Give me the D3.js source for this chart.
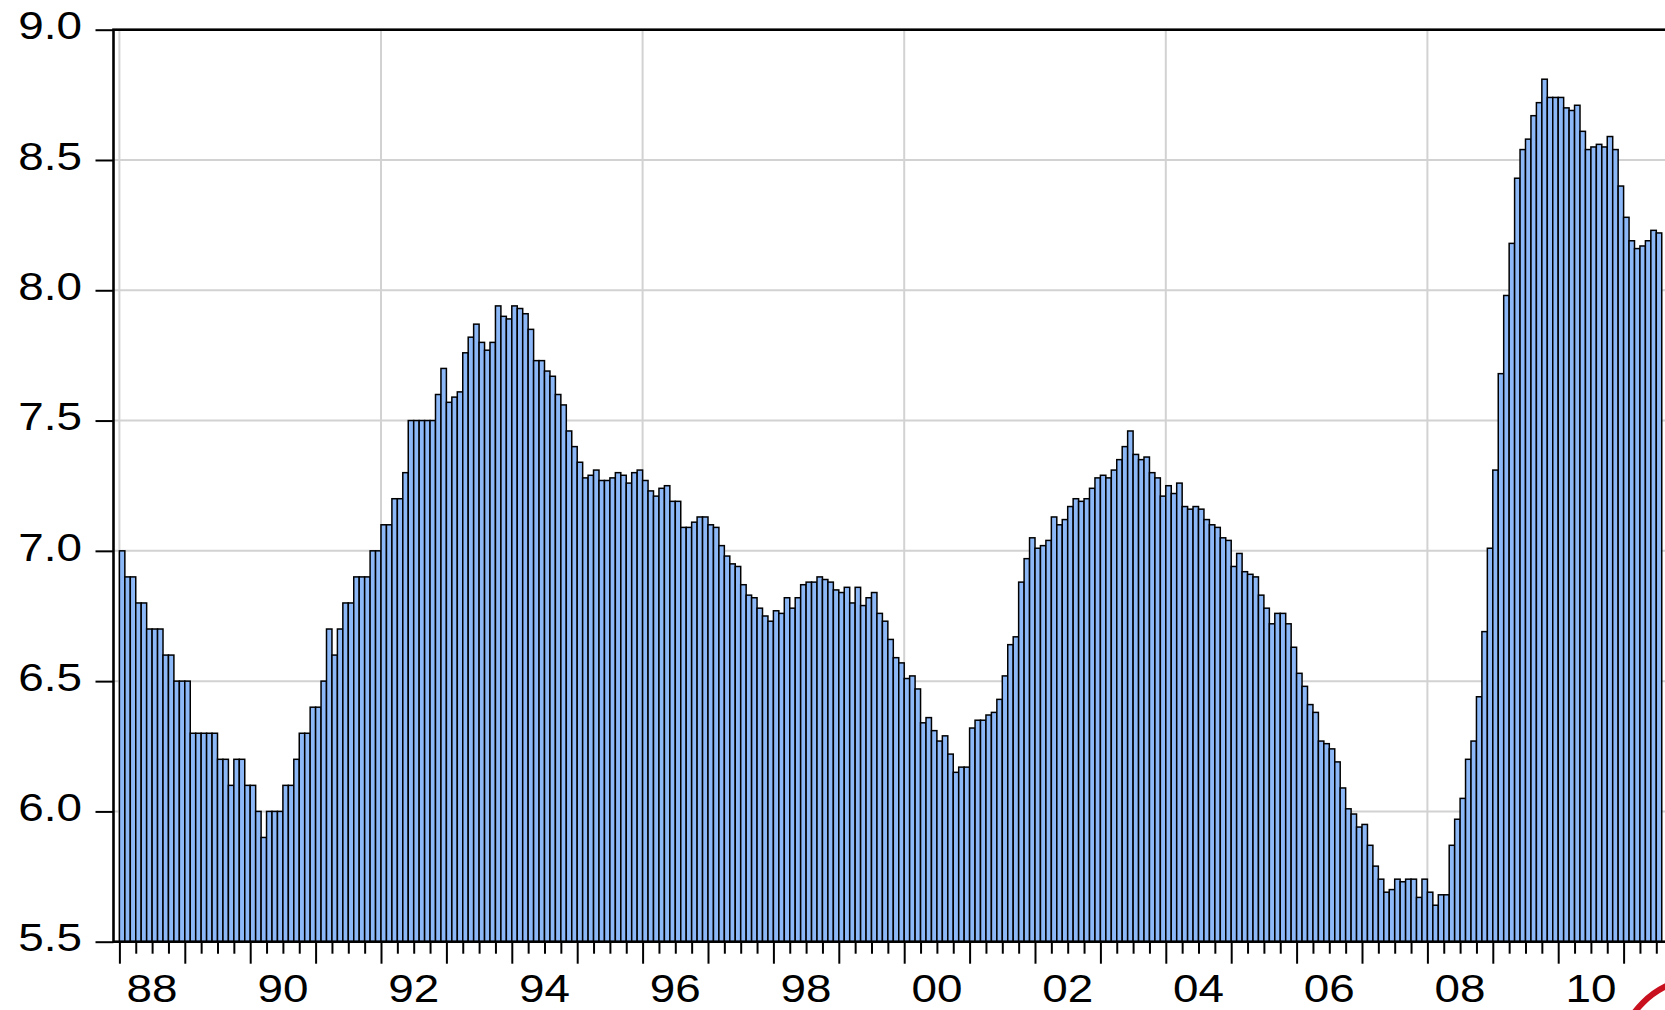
<!DOCTYPE html>
<html>
<head>
<meta charset="utf-8">
<script src="https://cdn.jsdelivr.net/npm/d3@7"></script>
<style>
  html, body { margin: 0; padding: 0; background: #ffffff; }
  svg { display: block; }
</style>
</head>
<body>
<svg id="chart" width="1665" height="1010"></svg>
<script>
// Monthly series, Jan 1988 .. Jul 2011
const startYear = 1988;
const values1988_1992 = [
  7.0, 6.9, 6.9, 6.8, 6.8, 6.7, 6.7, 6.7, 6.6, 6.6, 6.5, 6.5,
  6.5, 6.3, 6.3, 6.3, 6.3, 6.3, 6.2, 6.2, 6.1, 6.2, 6.2, 6.1,
  6.1, 6.0, 5.9, 6.0, 6.0, 6.0, 6.1, 6.1, 6.2, 6.3, 6.3, 6.4,
  6.4, 6.5, 6.7, 6.6, 6.7, 6.8, 6.8, 6.9, 6.9, 6.9, 7.0, 7.0,
  7.1, 7.1, 7.2, 7.2, 7.3, 7.5, 7.5, 7.5, 7.5, 7.5, 7.60, 7.70
];
const values1993_1999 = [
  7.57, 7.59, 7.61, 7.76, 7.82, 7.87, 7.80, 7.77, 7.80, 7.94, 7.90, 7.89,
  7.94, 7.93, 7.91, 7.85, 7.73, 7.73, 7.69, 7.67, 7.60, 7.56, 7.46, 7.40,
  7.34, 7.28, 7.29, 7.31, 7.27, 7.27, 7.28, 7.30, 7.29, 7.26, 7.30, 7.31,
  7.27, 7.23, 7.21, 7.24, 7.25, 7.19, 7.19, 7.09, 7.09, 7.11, 7.13, 7.13,
  7.10, 7.09, 7.02, 6.98, 6.95, 6.94, 6.87, 6.83, 6.82, 6.78, 6.75, 6.73,
  6.77, 6.76, 6.82, 6.78, 6.82, 6.87, 6.88, 6.88, 6.90, 6.89, 6.88, 6.85,
  6.84, 6.86, 6.80, 6.86, 6.79, 6.82, 6.84, 6.76, 6.73, 6.66, 6.59, 6.57
];
const values2000_2005 = [
  6.51, 6.52, 6.47, 6.34, 6.36, 6.31, 6.27, 6.29, 6.22, 6.15, 6.17, 6.17,
  6.32, 6.35, 6.35, 6.37, 6.38, 6.43, 6.52, 6.64, 6.67, 6.88, 6.97, 7.05,
  7.01, 7.02, 7.04, 7.13, 7.10, 7.12, 7.17, 7.20, 7.19, 7.20, 7.24, 7.28,
  7.29, 7.28, 7.31, 7.35, 7.40, 7.46, 7.37, 7.35, 7.36, 7.30, 7.28, 7.21,
  7.25, 7.22, 7.26, 7.17, 7.16, 7.17, 7.16, 7.12, 7.10, 7.09, 7.05, 7.04,
  6.94, 6.99, 6.92, 6.91, 6.90, 6.83, 6.78, 6.72, 6.76, 6.76, 6.72, 6.63
];
const values2006_2011 = [
  6.53, 6.48, 6.41, 6.38, 6.27, 6.26, 6.24, 6.19, 6.09, 6.01, 5.99, 5.94,
  5.95, 5.87, 5.79, 5.74, 5.69, 5.70, 5.74, 5.73, 5.74, 5.74, 5.67, 5.74,
  5.69, 5.64, 5.68, 5.68, 5.87, 5.97, 6.05, 6.20, 6.27, 6.44, 6.69, 7.01,
  7.31, 7.68, 7.98, 8.18, 8.43, 8.54, 8.58, 8.67, 8.72, 8.81, 8.74, 8.74,
  8.74, 8.70, 8.69, 8.71, 8.61, 8.54, 8.55, 8.56, 8.55, 8.59, 8.54, 8.40,
  8.28, 8.19, 8.16, 8.17, 8.19, 8.23, 8.22
];
const values = [].concat(values1988_1992, values1993_1999, values2000_2005, values2006_2011);

const yTicks = [5.5, 6.0, 6.5, 7.0, 7.5, 8.0, 8.5, 9.0];
const yearLabels = ["88", "90", "92", "94", "96", "98", "00", "02", "04", "06", "08", "10"];
const gridYears = [1988, 1992, 1996, 2000, 2004, 2008];

// ---- layout ----
const svg = d3.select("#chart");
const frameLeft = 113.5, frameTop = 29.7, frameBottom = 941.7, frameRight = 1668.5;
const barsLeft = 119.4, step = 5.45;
const n = values.length;

const x = d3.scaleLinear().domain([0, n]).range([barsLeft, barsLeft + n * step]);
const y = d3.scaleLinear().domain([5.5, 9.0]).range([frameBottom, frameTop]);

const gridColor = "#d2d2d2";
const fontSize = 38.5, stretch = 1.19;

// horizontal gridlines
svg.append("g").selectAll("line")
  .data(yTicks.filter(t => t > 5.5 && t < 9.0))
  .join("line")
  .attr("x1", frameLeft).attr("x2", frameRight)
  .attr("y1", d => y(d)).attr("y2", d => y(d))
  .attr("stroke", gridColor).attr("stroke-width", 2);

// vertical gridlines
svg.append("g").selectAll("line")
  .data(gridYears)
  .join("line")
  .attr("x1", d => x((d - startYear) * 12)).attr("x2", d => x((d - startYear) * 12))
  .attr("y1", frameTop).attr("y2", frameBottom)
  .attr("stroke", gridColor).attr("stroke-width", 2);

// bars
svg.append("g").selectAll("rect")
  .data(values)
  .join("rect")
  .attr("x", (d, i) => x(i))
  .attr("width", (d, i) => x(i + 1) - x(i))
  .attr("y", d => y(d))
  .attr("height", d => y(5.5) - y(d))
  .attr("fill", "#8db8f8")
  .attr("stroke", "#000")
  .attr("stroke-width", 1.5);

// frame
svg.append("rect")
  .attr("x", frameLeft).attr("y", frameTop)
  .attr("width", frameRight - frameLeft).attr("height", frameBottom - frameTop)
  .attr("fill", "none").attr("stroke", "#000").attr("stroke-width", 2.6);

// y axis
const yAxis = svg.append("g")
  .attr("transform", `translate(${frameLeft},0)`)
  .call(d3.axisLeft(y).tickValues(yTicks).tickSize(18).tickFormat(d3.format(".1f")));
yAxis.select(".domain").remove();
yAxis.selectAll(".tick line").attr("stroke", "#000").attr("stroke-width", 2);
yAxis.selectAll(".tick text")
  .attr("x", 0).attr("dy", null)
  .attr("transform", `translate(-31.5,9.2) scale(${stretch},1)`)
  .attr("text-anchor", "end")
  .style("font-family", "'Liberation Sans', Arial, sans-serif")
  .style("font-size", fontSize + "px")
  .attr("fill", "#000");

// x axis: yearly major ticks, quarterly minor ticks
const majorIdx = d3.range(0, n + 1, 12);
const minorIdx = d3.range(0, n, 3).filter(i => i % 12 !== 0);
const xMajor = svg.append("g")
  .attr("transform", `translate(0,${frameBottom + 1})`)
  .call(d3.axisBottom(x).tickValues(majorIdx).tickSize(21).tickFormat(""));
const xMinor = svg.append("g")
  .attr("transform", `translate(0,${frameBottom + 1})`)
  .call(d3.axisBottom(x).tickValues(minorIdx).tickSize(11).tickFormat(""));
[xMajor, xMinor].forEach(g => {
  g.select(".domain").remove();
  g.selectAll(".tick line").attr("stroke", "#000").attr("stroke-width", 2);
});

// year labels, centred on the middle of each labelled year
svg.append("g").selectAll("text")
  .data(yearLabels)
  .join("text")
  .attr("transform", (d, k) => `translate(${x(k * 24 + 6)},1001.5) scale(${stretch},1)`)
  .attr("text-anchor", "middle")
  .style("font-family", "'Liberation Sans', Arial, sans-serif")
  .style("font-size", fontSize + "px")
  .attr("fill", "#000")
  .text(d => d);

// partial red logo ring in the corner
svg.append("circle")
  .attr("cx", 1705).attr("cy", 1065).attr("r", 88)
  .attr("fill", "none").attr("stroke", "#c8101e").attr("stroke-width", 6);
</script>
</body>
</html>
